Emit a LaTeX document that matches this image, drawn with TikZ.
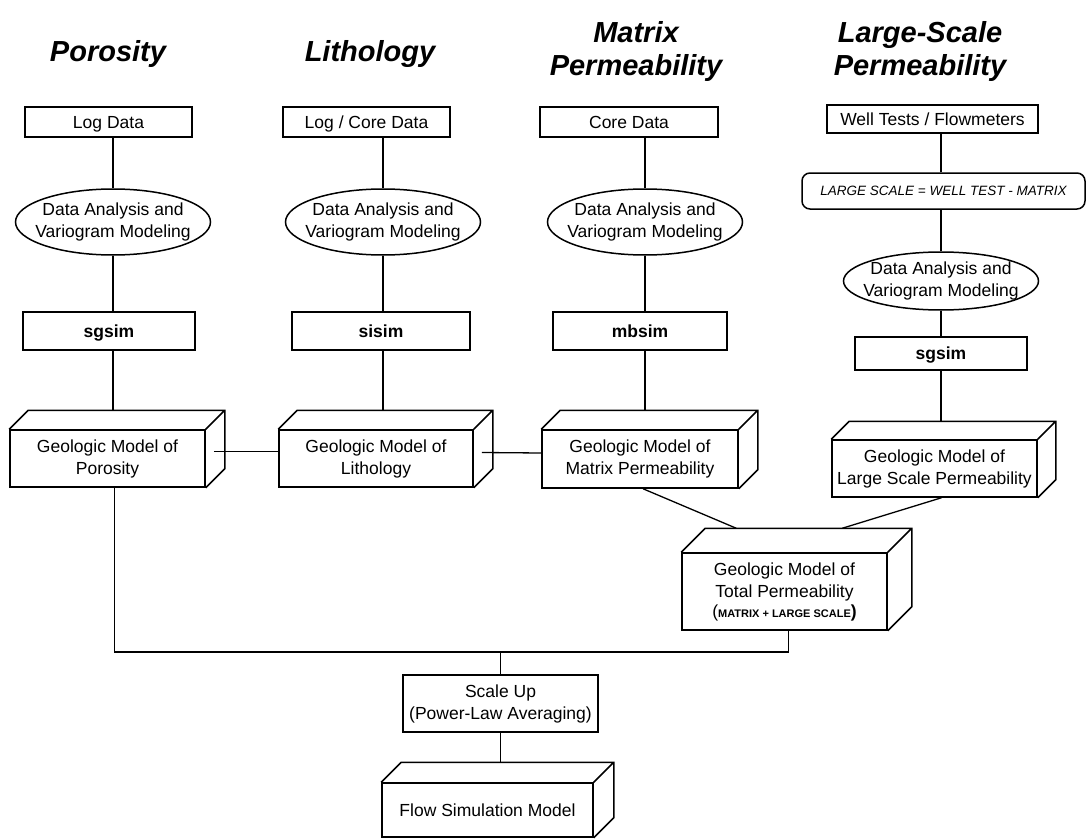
\documentclass[tikz,border=0pt]{standalone}
\usepackage{fontspec}
\setmainfont{Liberation Sans}
\usetikzlibrary{calc,shapes.geometric}

\newcommand\grund{\fontsize{17.5}{22}\selectfont}
\newcommand\titel{\fontsize{29}{33}\selectfont\bfseries\itshape}
% Quader: Deckflaeche und Seitenflaeche an einen Knoten anhaengen
\newcommand\quader[2][19]{%
  \draw[kante] (#2.north west) -- ++(#1,-#1) -- ($(#2.north east)+(#1,-#1)$)
    -- ($(#2.south east)+(#1,-#1)$) -- (#2.south east)
    (#2.north east) -- ++(#1,-#1);
  \coordinate (#2-top) at ($(#2.north)+(#1,-#1)$);}

\tikzset{
  kante/.style={line width=1.5pt, line join=miter},
  linie/.style={line width=1.3pt},
  kasten/.style={kante, draw, inner sep=0pt, align=center, font=\grund},
  zeile/.style={kasten, text height=14pt, text depth=1.5pt},
  oval/.style={kasten, ellipse, inner xsep=-20pt, minimum width=195, minimum height=66},
  kopf/.style={align=center, font=\titel, inner sep=0pt}
}

\begin{document}
\begin{tikzpicture}[x={(1pt,0)},y={(0,-1pt)}]
  \useasboundingbox (0,0) rectangle (1087,840);
  % Ueberschriften
  \node[kopf,anchor=base] (tPor) at (108,62) {Porosity};
  \node[kopf,anchor=base] (tLith) at (370,62) {Lithology};
  \node[kopf] (tMat) at (636,52) {Matrix\\Permeability};
  \node[kopf] (tLarge) at (920,52) {Large-Scale\\Permeability};
  % Daten
  \node[zeile,minimum width=167,minimum height=30] (dPor) at (108.5,122) {Log Data};
  \node[zeile,minimum width=167,minimum height=30] (dLith) at (366.5,122) {Log / Core Data};
  \node[zeile,minimum width=178,minimum height=30] (dMat) at (629,122) {Core Data};
  \node[zeile,minimum width=211,minimum height=28] (dLarge) at (932.5,119) {Well Tests / Flowmeters};
  \node[kasten,rounded corners=8pt,minimum width=283,minimum height=36,text height=10.5pt,text depth=1pt] (lsRule) at (943.5,191)
    {\fontsize{13.5}{16}\selectfont\itshape LARGE SCALE = WELL TEST - MATRIX};
  % Variogramme
  \node[oval] (aPor) at (113,222) {Data Analysis and\\Variogram Modeling};
  \node[oval] (aLith) at (383,222) {Data Analysis and\\Variogram Modeling};
  \node[oval] (aMat) at (645,222) {Data Analysis and\\Variogram Modeling};
  \node[oval,minimum height=58] (aLarge) at (941,281) {Data Analysis and\\Variogram Modeling};
  % Simulation
  \node[zeile,minimum width=172,minimum height=38] (sPor) at (109,331) {\bfseries sgsim};
  \node[zeile,minimum width=178,minimum height=38] (sLith) at (381,331) {\bfseries sisim};
  \node[zeile,minimum width=174,minimum height=38] (sMat) at (640,331) {\bfseries mbsim};
  \node[zeile,minimum width=172,minimum height=33] (sLarge) at (941,353.5) {\bfseries sgsim};
  % geologische Modelle
  \node[kasten,minimum width=195,minimum height=57] (gPor) at (107.5,458.5) {Geologic Model of\\Porosity};
  \node[kasten,minimum width=194,minimum height=57] (gLith) at (376,458.5) {Geologic Model of\\Lithology};
  \node[kasten,minimum width=196,minimum height=58] (gMat) at (640,459) {Geologic Model of\\Matrix Permeability};
  \node[kasten,minimum width=205,minimum height=57] (gLarge) at (934.5,468.5) {Geologic Model of\\Large Scale Permeability};
  \node[kasten,minimum width=205,minimum height=77] (gTot) at (784.5,591.5)
    {Geologic Model of\\Total Permeability\\[-2pt](\fontsize{11}{13}\selectfont\bfseries MATRIX + LARGE SCALE\grund)};
  \node[kasten,minimum width=195,minimum height=57] (scale) at (500.5,703.5) {Scale Up\\(Power-Law Averaging)};
  \node[zeile,minimum width=211,minimum height=54] (flow) at (487.5,810) {Flow Simulation Model};
  \quader{gPor} \quader{gLith} \quader{gMat} \quader[18]{gLarge}
  \quader[24]{gTot} \quader[20]{flow}
  % Verbindungen
  \foreach \s in {Por,Lith,Mat} {
    \draw[linie] (a\s.north |- d\s.south) -- (a\s.north);
    \draw[linie] (a\s.south) -- (a\s.south |- s\s.north);
    \draw[linie] (a\s.south |- s\s.south) -- (a\s.south |- g\s-top);
  }
  \draw[linie] (lsRule.north -| aLarge) -- (aLarge |- dLarge.south);
  \draw[linie] (aLarge.north) -- (aLarge |- lsRule.south);
  \draw[linie] (aLarge.south) -- (aLarge |- sLarge.north);
  \draw[linie] (aLarge |- sLarge.south) -- (aLarge |- gLarge-top);
  \draw[linie] ([xshift=8,yshift=7]gPor.east) -- ([yshift=7]gLith.west);
  \draw[linie] ([xshift=8,yshift=6]gLith.east) -- ([yshift=6]gMat.west);
  \coordinate (inMat) at ($(gTot.north west)+(55,-24)$);
  \coordinate (inLarge) at ($(gTot.north west)+(161,-24)$);
  \draw[linie] ([xshift=3]gMat.south) -- (inMat);
  \draw[linie] ([xshift=7]gLarge.south) -- (inLarge);
  \coordinate (bus) at (500.5,652);
  \draw[linie] ([xshift=4]gTot.south) |- (bus) -| ([xshift=7]gPor.south);
  \draw[linie] (bus) -- (scale.north);
  \draw[linie] (scale.south) -- (scale.south |- flow-top);
\end{tikzpicture}
\end{document}
